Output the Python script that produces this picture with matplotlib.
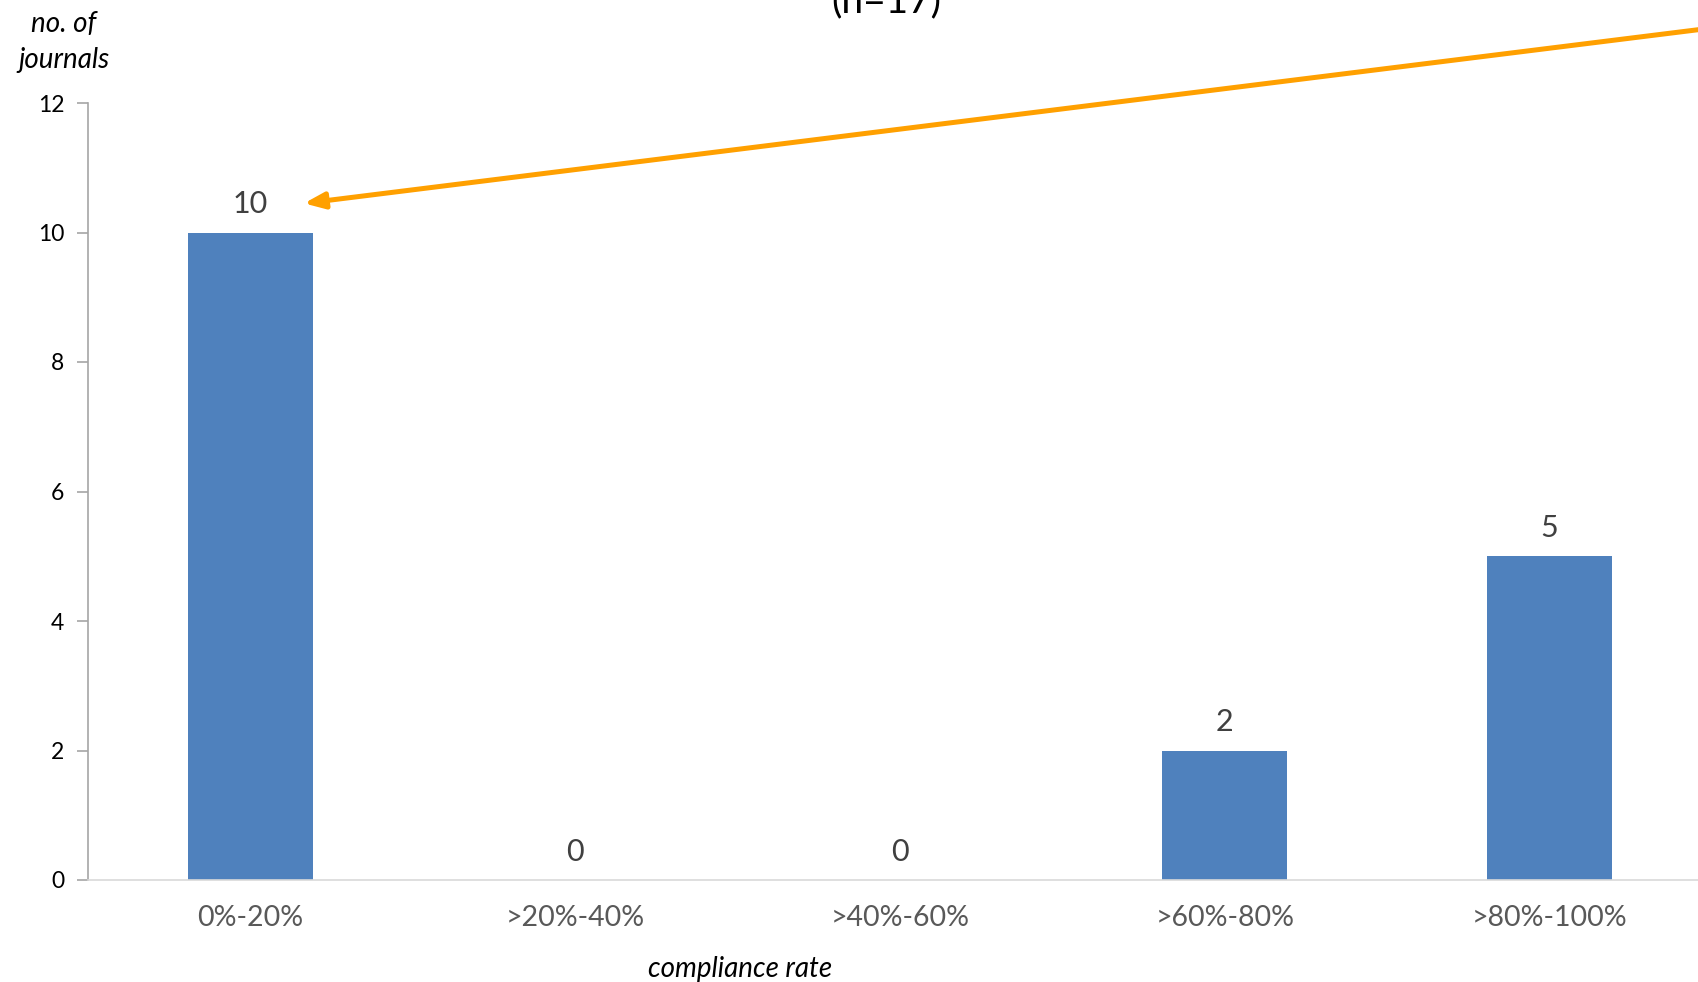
import matplotlib.pyplot as plt

categories = ['0%-20%', '>20%-40%', '>40%-60%', '>60%-80%', '>80%-100%']
journals = [10, 0, 0, 2, 5]
yticks = [0, 2, 4, 6, 8, 10, 12]

plt.rcParams['font.family'] = ['Lato', 'DejaVu Sans']

fig = plt.figure(figsize=(16.98, 9.82), dpi=100)
W, H = 1698, 982
# axes run past the right edge of the canvas, as in the cropped original
ax = fig.add_axes([88 / W, 1 - 880 / H, (1712 - 88) / W, (880 - 103) / H])

x = range(len(categories))
bars = ax.bar(x, journals, width=0.385, color='#4F81BD')
for b, v in zip(bars, journals):
    ax.text(b.get_x() + b.get_width() / 2, v + 0.22, str(v),
            ha='center', va='bottom', fontsize=22, color='#404040')

ax.set_xlim(-0.5, len(categories) - 0.5)
ax.set_ylim(0, 12)
ax.set_yticks(yticks)
ax.set_xticks(list(x))
ax.set_xticklabels(categories, fontsize=20.5, color='#595959')
ax.tick_params(axis='x', length=0, pad=18)
ax.tick_params(axis='y', length=8, width=1.2, color='#A6A6A6',
               labelsize=16.5, labelcolor='black', pad=9)

for s in ['top', 'right']:
    ax.spines[s].set_visible(False)
ax.spines['left'].set_color('#A6A6A6')
ax.spines['left'].set_linewidth(1.2)
ax.spines['bottom'].set_color('#D9D9D9')
ax.spines['bottom'].set_linewidth(1.2)

fig.text(64 / W, 1 - 42 / H, 'no. of\njournals', ha='center', va='center',
         fontsize=20, style='italic', linespacing=1.5)
fig.text(740 / W, 1 - 969 / H, 'compliance rate', ha='center', va='center',
         fontsize=20, style='italic')
fig.text(886 / W, 1 - 12 / H, '(n=17)', ha='center', va='baseline',
         fontsize=28, color='black')

ax.annotate('', xy=(0.165, 10.45), xycoords='data',
            xytext=(1760 / W, 1 - 22 / H), textcoords='figure fraction',
            annotation_clip=False,
            arrowprops=dict(arrowstyle='-|>,head_length=0.6,head_width=0.24',
                            mutation_scale=20, color='#FFA000', lw=3.6,
                            shrinkA=0, shrinkB=0))

fig.savefig('out.png', dpi=100)
